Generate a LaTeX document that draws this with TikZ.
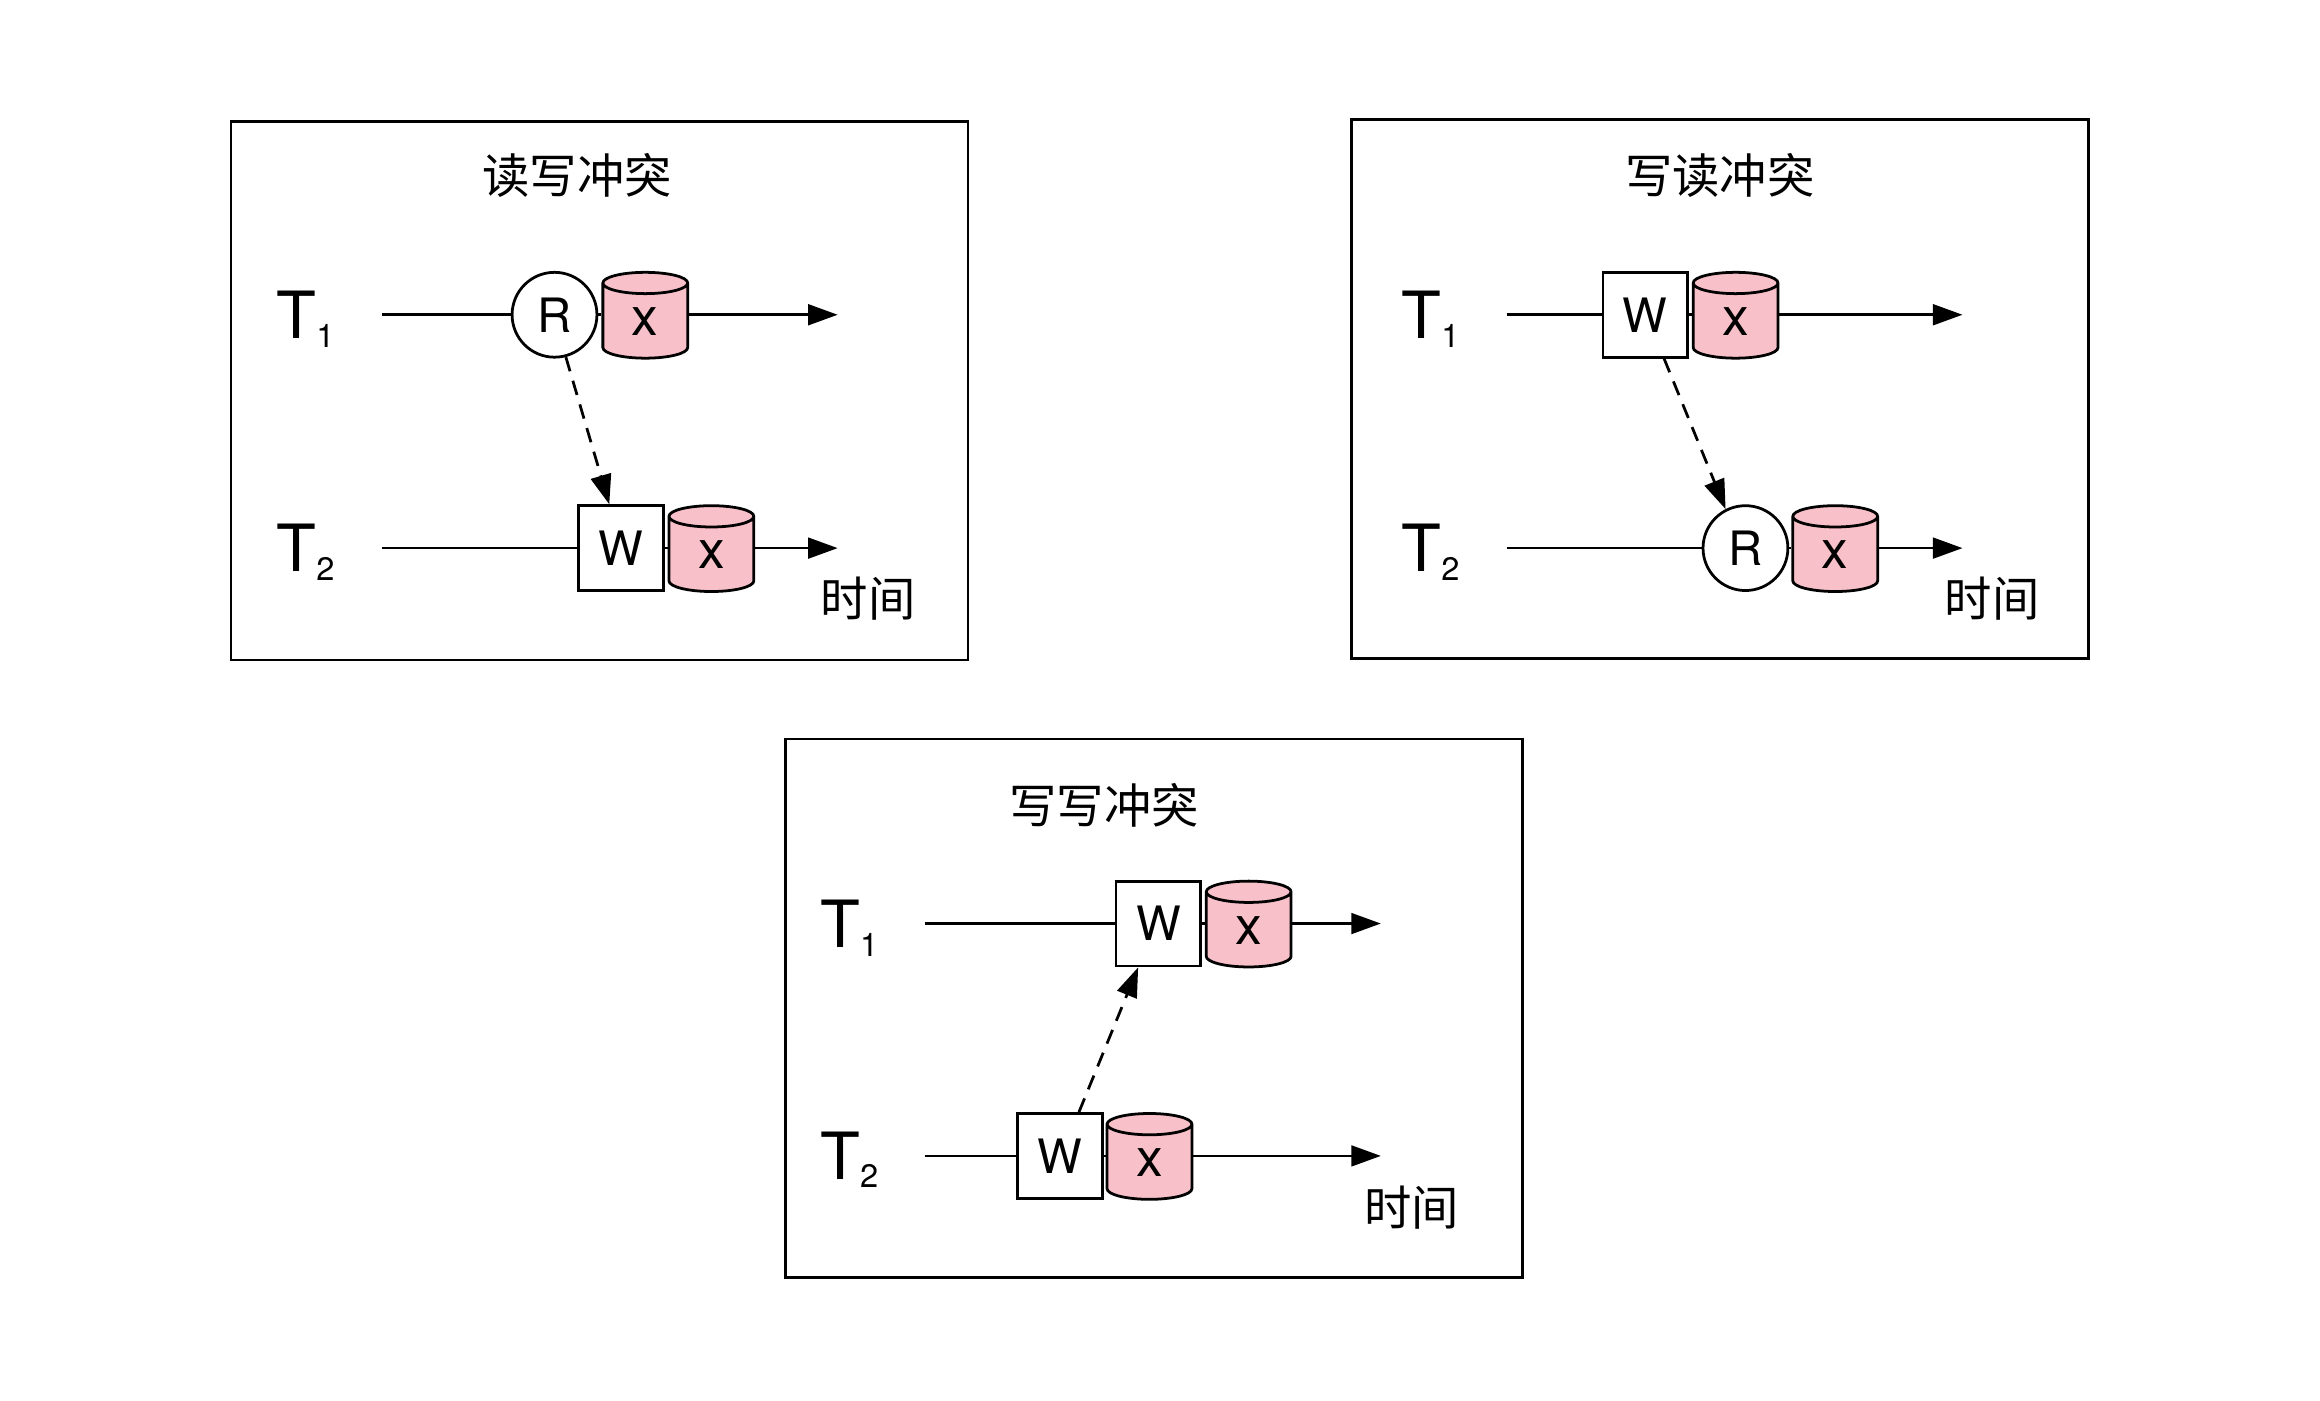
\documentclass[tikz,border=0pt]{standalone}
\usepackage{fontspec}
\setmainfont{TeX Gyre Heros}
\newfontfamily\cjk{Noto Sans CJK SC}
\usetikzlibrary{arrows.meta,shapes.geometric}
\definecolor{cellpink}{HTML}{F8C1C9}
\newcommand{\tname}[1]{\fontsize{66}{70}\selectfont T\raisebox{-9pt}{\fontsize{33}{36}\selectfont #1}}
\newcommand{\cellx}{\raisebox{-3pt}{x}}

\begin{document}
\begin{tikzpicture}[x=1pt,y=-1pt,line width=2.8pt]
%styles
\tikzstyle{panel}=[rectangle,draw,minimum width=747pt,minimum height=546pt]
\tikzstyle{titre}=[font=\cjk\fontsize{48}{50}\selectfont]
\tikzstyle{tlabel}=[anchor=base west,inner sep=0pt]
\tikzstyle{rnode}=[circle,draw,fill=white,minimum size=86pt,inner sep=0pt,font=\fontsize{48}{50}\selectfont]
\tikzstyle{wnode}=[rectangle,draw,fill=white,minimum size=86pt,inner sep=0pt,font=\fontsize{48}{50}\selectfont]
\tikzstyle{cell}=[cylinder,shape border rotate=90,aspect=0.8,draw,fill=cellpink,minimum width=86pt,minimum height=87pt,inner sep=0pt,anchor=shape center,font=\fontsize{54}{56}\selectfont]
\tikzstyle{suite}=[-{Triangle[length=30pt,width=21pt]}]
\tikzstyle{dep}=[-{Triangle[length=30pt,width=21pt]},dash pattern=on 15pt off 10pt]
\useasboundingbox (0,0) rectangle (2351.3,1418.9);
%first panel
\node[panel] (boxa) at (607.5,396) {};
\node[titre] (titlea) at (585,178) {读写冲突};
\node[tlabel] (ta) at (279,343) {\tname{1}};
\node[tlabel] (tb) at (279,579) {\tname{2}};
\coordinate (sa) at (387,319);
\coordinate (ea) at (849,319);
\coordinate (sb) at (387,555.5);
\coordinate (eb) at (849,555.5);
\node[rnode] (ra) at (562,319) {R};
\node[cell] (xa) at (654,319.5) {\cellx};
\node[wnode] (wb) at (629.5,555.5) {W};
\node[cell] (xb) at (721,556) {\cellx};
\node[titre] (timea) at (880,607) {时间};
\draw (sa) -- (ra);
\draw (ra) -- (xa.west |- ra);
\draw[suite] (xa.east |- ea) -- (ea);
\draw (sb) -- (wb);
\draw (wb) -- (xb.west |- wb);
\draw[suite] (xb.east |- eb) -- (eb);
\draw[dep] (ra.-75) -- ([xshift=-12pt]wb.north);
%second panel
\node[panel] (boxb) at (1743,394) {};
\node[titre] (titleb) at (1743,178) {写读冲突};
\node[tlabel] (tc) at (1419,343) {\tname{1}};
\node[tlabel] (td) at (1419,579) {\tname{2}};
\coordinate (sc) at (1527,319);
\coordinate (ec) at (1989,319);
\coordinate (sd) at (1527,555.5);
\coordinate (ed) at (1989,555.5);
\node[wnode] (wc) at (1667.5,319) {W};
\node[cell] (xc) at (1759,319.5) {\cellx};
\node[rnode] (rd) at (1769,555.5) {R};
\node[cell] (xd) at (1860,556) {\cellx};
\node[titre] (timeb) at (2019,607) {时间};
\draw (sc) -- (wc);
\draw (wc) -- (xc.west |- wc);
\draw[suite] (xc.east |- ec) -- (ec);
\draw (sd) -- (rd);
\draw (rd) -- (xd.west |- rd);
\draw[suite] (xd.east |- ed) -- (ed);
\draw[dep] ([xshift=19pt]wc.south) -- (rd.117);
%third panel
\node[panel] (boxc) at (1169.5,1022) {};
\node[titre] (titlec) at (1119,816) {写写冲突};
\node[tlabel] (te) at (830,960) {\tname{1}};
\node[tlabel] (tf) at (830,1195) {\tname{2}};
\coordinate (se) at (937,936);
\coordinate (ee) at (1399.5,936);
\coordinate (sf) at (937,1171.5);
\coordinate (ef) at (1399.5,1171.5);
\node[wnode] (we) at (1174,936) {W};
\node[cell] (xe) at (1265.5,936.5) {\cellx};
\node[wnode] (wf) at (1074,1171.5) {W};
\node[cell] (xf) at (1165,1172) {\cellx};
\node[titre] (timec) at (1431,1224) {时间};
\draw (se) -- (we);
\draw (we) -- (xe.west |- we);
\draw[suite] (xe.east |- ee) -- (ee);
\draw (sf) -- (wf);
\draw (wf) -- (xf.west |- wf);
\draw[suite] (xf.east |- ef) -- (ef);
\draw[dep] ([xshift=19.5pt]wf.north) -- ([xshift=-20.5pt]we.south);
\end{tikzpicture}
\end{document}
